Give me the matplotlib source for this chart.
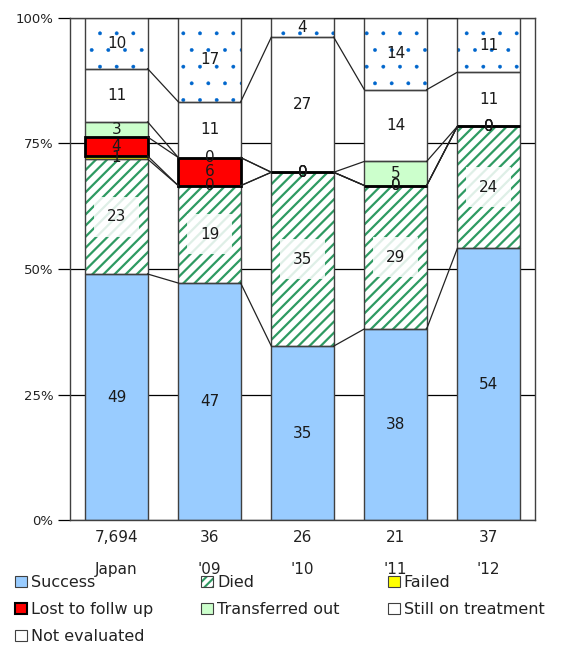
import numpy as np
import matplotlib
matplotlib.use("Agg")
import matplotlib.pyplot as plt
from matplotlib.patches import Patch
from matplotlib.legend_handler import HandlerTuple

# groups along the x axis
groups = ['Japan', "'09", "'10", "'11", "'12"]
counts = ['7,694', '36', '26', '21', '37']

# percentages per outcome
success = [49.0, 47.2, 34.6, 38.1, 54.1]
died = [22.9, 19.4, 34.6, 28.6, 24.3]
failed = [0.6, 0.0, 0.0, 0.0, 0.0]
lost = [3.8, 5.6, 0.0, 0.0, 0.0]
transferred = [3.0, 0.0, 0.0, 4.8, 0.0]
still = [10.6, 11.1, 26.9, 14.3, 10.8]
not_eval = [10.1, 16.7, 3.8, 14.3, 10.8]

names = ['Success', 'Died', 'Failed', 'Lost to follw up',
         'Transferred out', 'Still on treatment', 'Not evaluated']
series = [success, died, failed, lost, transferred, still, not_eval]

vals = np.array(series, dtype=float)
vals = vals / vals.sum(axis=0) * 100  # 100% stacked
labels = np.array(series, dtype=float)

fig = plt.figure(figsize=(5.67, 6.45), dpi=100)
ax = fig.add_axes([70/567, 1-520/645, 465/567, 502/645])

x = np.arange(len(groups))
w = 0.67
edge = '#404040'
green = '#2E9A62'

styles = [
    dict(color='#99CCFF'),
    dict(color='white', hatch='///', hatchc=green, hlw=1.6),
    dict(color='#FFFF00'),
    dict(color='#FF0000', ec='black', lw=2.0),
    dict(color='#CCFFCC'),
    dict(color='white'),
    dict(color='white', hatch='.', hatchc='#0066CC', hlw=0.3),
]

bottom = np.zeros(len(groups))
tops = []
for k, v in enumerate(vals):
    st = styles[k]
    if 'hatch' in st:
        with plt.rc_context({'hatch.linewidth': st['hlw']}):
            ax.bar(x, v, w, bottom=bottom, color=st['color'], edgecolor=st['hatchc'],
                   hatch=st['hatch'], linewidth=0, zorder=2)
    else:
        ax.bar(x, v, w, bottom=bottom, color=st['color'], linewidth=0, zorder=2)
    ax.bar(x, v, w, bottom=bottom, fill=False, edgecolor=st.get('ec', edge),
           linewidth=st.get('lw', 1.0), zorder=3 + (1 if 'ec' in st else 0))
    for i in range(len(groups)):
        yc = bottom[i] + v[i] / 2
        kw = {}
        if k == 1:
            kw['bbox'] = dict(facecolor='white', alpha=0.85, edgecolor='none', pad=9)
        ax.text(x[i], yc, '%.0f' % labels[k][i], ha='center', va='center',
                fontsize=11, color='#1a1a1a', zorder=6, **kw)
    bottom = bottom + v
    tops.append(bottom.copy())

# series lines between bars
for t in tops:
    for i in range(len(groups) - 1):
        ax.plot([x[i] + w/2, x[i+1] - w/2], [t[i], t[i+1]], color='#222222',
                lw=0.9, zorder=5)

ax.set_xlim(-0.5, len(groups) - 0.5)
ax.set_ylim(0, 100)
ax.set_yticks([0, 25, 50, 75, 100])
ax.set_yticklabels(['0%', '25%', '50%', '75%', '100%'], fontsize=9.5, color='#222222')
ax.yaxis.grid(True, color='black', lw=0.9, zorder=0)
ax.set_axisbelow(True)
ax.tick_params(axis='y', length=9, width=0.9, color='black', pad=3)
ax.set_xticks(x)
ax.set_xticklabels([c + '\n' + g for c, g in zip(counts, groups)], fontsize=11,
                   color='#222222')
for lbl in ax.get_xticklabels():
    lbl.set_linespacing(2.4)
ax.tick_params(axis='x', length=0, pad=7)
for s in ax.spines.values():
    s.set_color('#404040')
    s.set_linewidth(1.0)

# legend laid out row by row
order = [0, 3, 6, 1, 4, 2, 5]
with plt.rc_context({'hatch.linewidth': 1.5}):
    handles = []
    for k in range(len(names)):
        st = styles[k]
        if k == 1:
            h = (Patch(facecolor='white', edgecolor=green, hatch='////', lw=0),
                 Patch(fill=False, edgecolor=edge, lw=0.8))
        elif k == 3:
            h = Patch(facecolor=st['color'], edgecolor='black', lw=1.5)
        else:
            h = Patch(facecolor=st['color'], edgecolor=edge, lw=0.8)
        handles.append(h)
    leg = fig.legend([handles[i] for i in order], [names[i] for i in order],
                     loc='upper left', bbox_to_anchor=(15/567, 1-575/645), ncol=3,
                     frameon=False, fontsize=11.5, handlelength=0.75, handleheight=0.75,
                     handletextpad=0.25, columnspacing=3.0, labelspacing=0.75,
                     borderpad=0, borderaxespad=0,
                     handler_map={tuple: HandlerTuple(ndivide=1, pad=0)})
for t in leg.get_texts():
    t.set_color('#222222')

fig.savefig('out.png', dpi=100)
